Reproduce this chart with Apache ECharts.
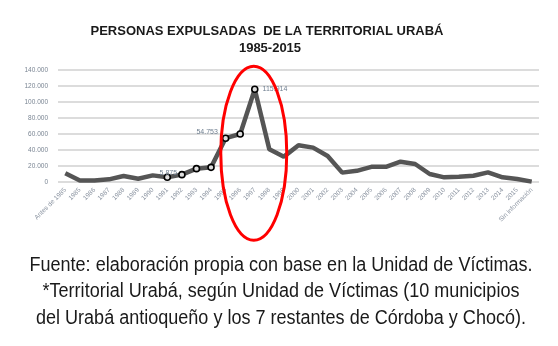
<!DOCTYPE html>
<html>
<head>
<meta charset="utf-8">
<script src="https://cdn.jsdelivr.net/npm/echarts@6/dist/echarts.min.js"></script>
<style>
html,body{margin:0;padding:0;background:#fff;}
#chart{width:558px;height:346px;}
</style>
</head>
<body>
<div id="chart"></div>
<script>
var categories = ['Antes de 1985','1985','1986','1987','1988','1989','1990','1991','1992','1993','1994','1995','1996','1997','1998','1999','2000','2001','2002','2003','2004','2005','2006','2007','2008','2009','2010','2011','2012','2013','2014','2015','Sin información'];
var expulsadas = [11000,2000,2000,3300,7500,4000,8300,5875,9200,16700,18300,54753,60000,115914,40800,31700,46000,43000,32500,11700,14000,19000,19000,25400,22500,10000,5800,6700,7900,12000,5800,3800,500];
var markedYears = ['1991','1992','1993','1994','1995','1996','1997'];
var labelledYears = {'1991':'top','1995':'left','1997':'right'};
var yTicks = [0,20000,40000,60000,80000,100000,120000,140000];
var titleText = 'PERSONAS EXPULSADAS  DE LA TERRITORIAL URABÁ';
var subtitleText = '1985-2015';
var footerLines = ['Fuente: elaboración propia con base en la Unidad de Víctimas.','*Territorial Urabá, según Unidad de Víctimas (10 municipios','del Urabá antioqueño y los 7 restantes de Córdoba y Chocó).'];

function fmt(v){ return String(Math.round(v)).replace(/\B(?=(\d{3})+(?!\d))/g,'.'); }

var seriesData = expulsadas.map(function(v,i){
  var c = categories[i];
  var item = {value:v};
  if (markedYears.indexOf(c) >= 0) {
    item.symbol = 'circle';
    item.symbolSize = 6;
  } else {
    item.symbol = 'none';
  }
  if (labelledYears[c]) {
    var pos = labelledYears[c];
    item.label = {show:true, position:pos, distance: pos==='top'?0:4, formatter: fmt(v), color:'#6f7f90', fontSize:7, fontFamily:'Liberation Sans'};
    if (pos==='left') item.label.offset=[0,-6];
    if (pos==='top') item.label.offset=[1,3];
  }
  return item;
});

var chart = echarts.init(document.getElementById('chart'), null, {renderer:'canvas'});
chart.setOption({
  animation:false,
  backgroundColor:'#fff',
  title:[
    {text:titleText, left:267, top:25, textAlign:'center', padding:0,
     textStyle:{fontFamily:'Liberation Sans', fontWeight:'bold', fontSize:13, color:'#1a1a1a'}},
    {text:subtitleText, left:270, top:42, textAlign:'center', padding:0,
     textStyle:{fontFamily:'Liberation Sans', fontWeight:'bold', fontSize:13, color:'#1a1a1a'}}
  ],
  grid:{left:58, right:19, top:70, bottom:164, containLabel:false},
  xAxis:{
    type:'category', data:categories, boundaryGap:true,
    axisLine:{show:false}, axisTick:{show:false},
    axisLabel:{interval:0, rotate:45, fontSize:6.5, color:'#8a93a0', margin:7, fontFamily:'Liberation Sans'}
  },
  yAxis:{
    type:'value', min:0, max:140000, interval:20000,
    axisLine:{show:false}, axisTick:{show:false},
    axisLabel:{formatter:function(v){return fmt(v);}, fontSize:6.5, color:'#7a8593', margin:10, fontFamily:'Liberation Sans'},
    splitLine:{lineStyle:{color:'#dcdcdc', width:2}}
  },
  series:[{
    type:'line', data:seriesData, showSymbol:true,
    lineStyle:{color:'#555', width:4.5},
    itemStyle:{color:'#ddd', borderColor:'#000', borderWidth:1.6},
    emphasis:{disabled:true}, z:3
  }]
});

// footer in a condensed sans (Liberation Sans squeezed horizontally)
var footFont = '20px "Liberation Sans"';
var cv = document.createElement('canvas').getContext('2d');
cv.font = footFont;
var w0 = cv.measureText(footerLines[0]).width;
var sx = 503 / w0;
var footY = [265, 291.5, 318];
var graphics = footerLines.map(function(t, i){
  return {type:'text', x:281, y:footY[i], scaleX:sx, scaleY:1, silent:true,
    style:{text:t, font:footFont, fill:'#1a1a1a', textAlign:'center', textVerticalAlign:'middle'}};
});

var c = chart.convertToPixel({gridIndex:0}, ['1997', 36000]);
graphics.push({
  type:'ellipse', shape:{cx:c[0]-1, cy:c[1], rx:33, ry:87},
  style:{fill:'none', stroke:'#ff0000', lineWidth:3}, z:10, silent:true
});
chart.setOption({graphic:graphics});
</script>
</body>
</html>
